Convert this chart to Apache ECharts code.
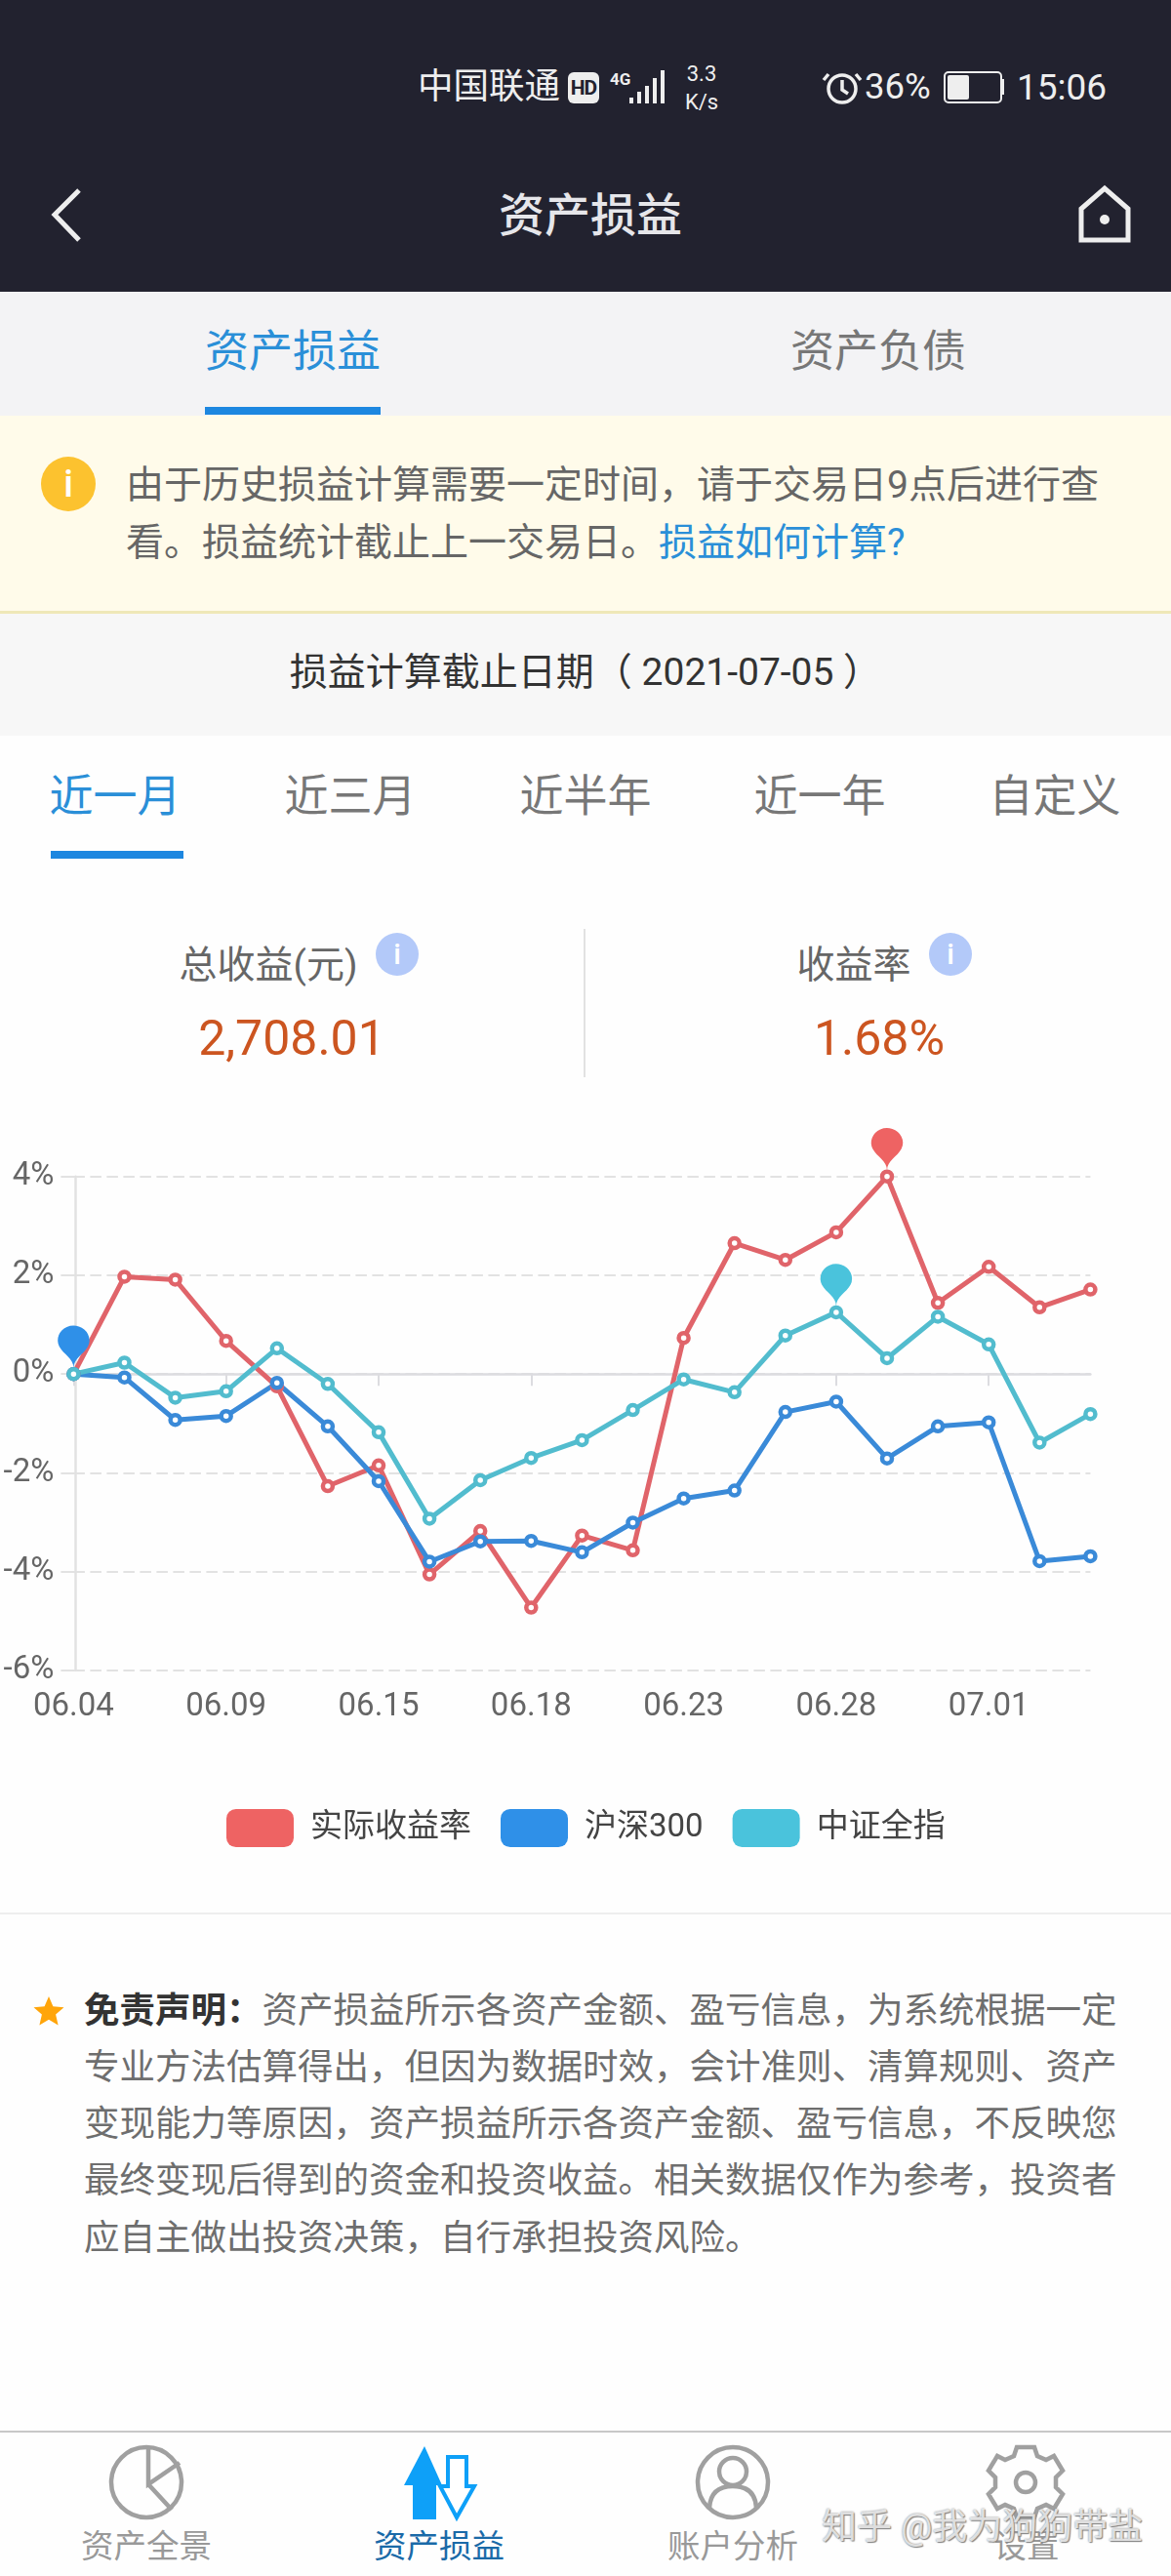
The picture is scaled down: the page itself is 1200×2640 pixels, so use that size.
<!DOCTYPE html>
<html lang="zh-CN"><head><meta charset="utf-8">
<script src="https://cdn.jsdelivr.net/npm/echarts@6/dist/echarts.min.js"></script>
<style>
html,body{margin:0;padding:0;background:#fff;}
#page{position:relative;width:1200px;height:2640px;overflow:hidden;background:#fefefe;font-family:Roboto,"Noto Sans CJK SC",sans-serif;}
.b{position:absolute;}
.t{position:absolute;white-space:nowrap;line-height:1;transform:translateY(-50%);}
.c{transform:translate(-50%,-50%);}
#chart{position:absolute;left:0;top:0;width:1200px;height:2640px;}
svg{position:absolute;overflow:visible;}
</style></head><body><div id="page">
<div class="b" style="left:0;top:0;width:1200px;height:299px;background:#22222f"></div>
<div class="t" style="left:428px;top:89px;font-size:36.5px;color:#eee">中国联通</div>
<div class="b" style="left:582px;top:74px;width:32px;height:32px;background:#eee;border-radius:6px"></div>
<div class="t c" style="left:598px;top:90px;font-size:21px;font-weight:700;color:#22222f;letter-spacing:-1px">HD</div>
<div class="t" style="left:625px;top:81px;font-size:17px;font-weight:700;color:#eee">4G</div>
<svg style="left:0;top:0" width="1" height="1"><g fill="#eee"><rect x="645" y="100" width="4" height="6"/><rect x="653" y="94" width="4" height="12"/><rect x="661" y="88" width="4" height="18"/><rect x="669" y="80" width="4" height="26"/><rect x="677" y="72" width="4" height="34"/></g></svg>
<div class="t c" style="left:719px;top:76px;font-size:22px;color:#eee">3.3</div>
<div class="t c" style="left:719px;top:105px;font-size:22px;color:#eee">K/s</div>
<svg style="left:0;top:0" width="1" height="1"><g fill="none" stroke="#eee" stroke-width="3.5"><circle cx="863" cy="91" r="14"/><path d="M863 82v10l6 4M849 76l-5 6M877 76l5 6"/></g></svg>
<div class="t" style="left:886px;top:89px;font-size:36.5px;color:#eee">36%</div>
<div class="b" style="left:967px;top:73px;width:56px;height:29px;border:2px solid #eee;border-radius:5px"></div>
<div class="b" style="left:971px;top:77px;width:22px;height:25px;background:#eee;border-radius:2px"></div>
<div class="b" style="left:1026px;top:81px;width:3px;height:16px;background:#eee"></div>
<div class="t" style="left:1042px;top:89px;font-size:37px;color:#eee">15:06</div>
<svg style="left:0;top:0" width="1" height="1"><path d="M81 195L56 220L81 246" fill="none" stroke="#eee" stroke-width="5"/>
<path d="M1108 246V214L1132 193L1156 214V246Z" fill="none" stroke="#eee" stroke-width="5"/><circle cx="1132" cy="225" r="5" fill="#eee"/></svg>
<div class="t c" style="left:605px;top:220px;font-size:47px;font-weight:500;color:#e6e6ea">资产损益</div>

<div class="b" style="left:0;top:299px;width:1200px;height:127px;background:#f3f3f5"></div>
<div class="t c" style="left:300px;top:360px;font-size:45px;color:#2a8fd8">资产损益</div>
<div class="t c" style="left:900px;top:360px;font-size:45px;color:#777">资产负债</div>
<div class="b" style="left:210px;top:417px;width:180px;height:8px;background:#1d87e0"></div>

<div class="b" style="left:0;top:426px;width:1200px;height:200px;background:#fffbea;border-bottom:3px solid #efe8b8"></div>
<div class="b" style="left:42px;top:468px;width:56px;height:56px;border-radius:50%;background:#fcc22f"></div>
<div class="t c" style="left:70px;top:496px;font-size:38px;font-weight:500;color:#fff">i</div>
<div class="t" style="left:129px;top:497px;font-size:39px;color:#666">由于历史损益计算需要一定时间&#xFF0C;请于交易日9点后进行查</div>
<div class="t" style="left:129px;top:556px;font-size:39px;color:#666">看。损益统计截止上一交易日。<span style="color:#2a8fd8">损益如何计算?</span></div>

<div class="b" style="left:0;top:629px;width:1200px;height:125px;background:#f7f7f7"></div>
<div class="t c" style="left:600px;top:689px;font-size:39px;color:#333">损益计算截止日期（ 2021-07-05 ）</div>

<div class="t c" style="left:118px;top:816px;font-size:45px;color:#2a8fd8">近一月</div>
<div class="t c" style="left:359px;top:816px;font-size:45px;color:#777">近三月</div>
<div class="t c" style="left:600px;top:816px;font-size:45px;color:#777">近半年</div>
<div class="t c" style="left:840px;top:816px;font-size:45px;color:#777">近一年</div>
<div class="t c" style="left:1081px;top:816px;font-size:45px;color:#777">自定义</div>
<div class="b" style="left:52px;top:872px;width:136px;height:8px;background:#1d87e0"></div>

<div class="t c" style="left:275px;top:989px;font-size:39px;color:#666">总收益(元)</div>
<div class="b" style="left:385px;top:956px;width:44px;height:44px;border-radius:50%;background:#b3c9f9"></div>
<div class="t c" style="left:407px;top:978px;font-size:30px;font-weight:500;color:#fff">i</div>
<div class="b" style="left:598px;top:952px;width:2px;height:152px;background:#e2e2e2"></div>
<div class="t c" style="left:875px;top:989px;font-size:39px;color:#666">收益率</div>
<div class="b" style="left:952px;top:956px;width:44px;height:44px;border-radius:50%;background:#b3c9f9"></div>
<div class="t c" style="left:974px;top:978px;font-size:30px;font-weight:500;color:#fff">i</div>
<div class="t c" style="left:299px;top:1064px;font-size:50px;color:#cc5520">2,708.01</div>
<div class="t c" style="left:901px;top:1064px;font-size:50px;color:#cc5520">1.68%</div>

<div class="b" style="left:0;top:1960px;width:1200px;height:2px;background:#eee"></div>
<svg style="left:0;top:0" width="1" height="1"><path d="M50 2046L54.4 2056.2 65.5 2057.2 57.1 2064.5 59.6 2075.4 50 2069.7 40.4 2075.4 42.9 2064.5 34.5 2057.2 45.6 2056.2Z" fill="#ffa50a"/></svg>
<div class="t" style="left:86px;top:2061px;font-size:36.5px;color:#6e6e6e"><b style="color:#333">免责声明&#xFF1A;</b>资产损益所示各资产金额、盈亏信息&#xFF0C;为系统根据一定</div>
<div class="t" style="left:86px;top:2119px;font-size:36.5px;color:#6e6e6e">专业方法估算得出&#xFF0C;但因为数据时效&#xFF0C;会计准则、清算规则、资产</div>
<div class="t" style="left:86px;top:2177px;font-size:36.5px;color:#6e6e6e">变现能力等原因&#xFF0C;资产损益所示各资产金额、盈亏信息&#xFF0C;不反映您</div>
<div class="t" style="left:86px;top:2235px;font-size:36.5px;color:#6e6e6e">最终变现后得到的资金和投资收益。相关数据仅作为参考&#xFF0C;投资者</div>
<div class="t" style="left:86px;top:2294px;font-size:36.5px;color:#6e6e6e">应自主做出投资决策&#xFF0C;自行承担投资风险。</div>

<div class="b" style="left:0;top:2491px;width:1200px;height:2px;background:#c8c8c8"></div>
<svg style="left:0;top:0" width="1" height="1">
<g fill="none" stroke="#a0a0a0" stroke-width="4.5"><circle cx="150" cy="2544" r="36"/><path d="M152 2509V2546L184 2524M152 2546L176 2572"/></g>
<path d="M435 2507L453 2547H447V2582H423V2547H414Z" fill="#0ea0f8"/>
<path d="M459 2518H478V2548H486L468 2580L451 2548H459Z" fill="#fff" stroke="#0ea0f8" stroke-width="4"/>
<g fill="none" stroke="#a0a0a0" stroke-width="4.5"><circle cx="751" cy="2544" r="36"/><circle cx="751" cy="2533" r="14"/><path d="M727 2570C728 2552 740 2548 751 2548C762 2548 774 2552 775 2570"/></g>
<g fill="none" stroke="#a0a0a0" stroke-width="4.5"><circle cx="1051" cy="2544" r="10"/><path d="M1042 2508h18l3 9 9 4 8-4 9 15-7 7v10l7 7-9 15-8-4-9 4-3 9h-18l-3-9-9-4-8 4-9-15 7-7v-10l-7-7 9-15 8 4 9-4z"/></g>
</svg>
<div class="t c" style="left:150px;top:2610px;font-size:33.5px;color:#999">资产全景</div>
<div class="t c" style="left:450px;top:2610px;font-size:33.5px;color:#1a6aa8">资产损益</div>
<div class="t c" style="left:751px;top:2610px;font-size:33.5px;color:#999">账户分析</div>
<div class="t c" style="left:1052px;top:2610px;font-size:33.5px;color:#999">设置</div>
<div class="t" style="left:842px;top:2590px;font-size:36px;color:rgba(255,255,255,.75);text-shadow:0 0 2px #777,1px 1px 1px #888">知乎 @我为狗狗带盐</div>
<div id="chart"></div>
</div>
<script>
const categories = ['06.04','06.07','06.08','06.09','06.10','06.11','06.15','06.16','06.17','06.18','06.21','06.22','06.23','06.24','06.25','06.28','06.29','06.30','07.01','07.02','07.05'];
const actualReturn = [0,1.97,1.91,0.67,-0.25,-2.27,-1.85,-4.06,-3.18,-4.73,-3.27,-3.57,0.73,2.65,2.31,2.87,4.0,1.44,2.17,1.35,1.71];
const hs300 = [0,-0.07,-0.93,-0.85,-0.18,-1.06,-2.17,-3.8,-3.39,-3.38,-3.61,-3.01,-2.52,-2.36,-0.77,-0.56,-1.71,-1.06,-0.98,-3.79,-3.69];
const csiAll = [0,0.23,-0.48,-0.35,0.52,-0.2,-1.18,-2.93,-2.15,-1.7,-1.34,-0.73,-0.11,-0.37,0.78,1.25,0.32,1.16,0.6,-1.39,-0.81];
const seriesNames = ['实际收益率','沪深300','中证全指'];
const lineColors = ['#E0646A','#3A8AD8','#52BCCE'];
const markColors = ['#EE6363','#2F90E8','#4AC3DC'];
const yTicks = {min:-6,max:4,interval:2};

const chart = echarts.init(document.getElementById('chart'), null, {width:1200,height:2640});
const fontFamily = 'Roboto, "Noto Sans CJK SC", sans-serif';
const mk = (name,data,i)=>({
  name, type:'line', data, symbol:'circle', symbolSize:10, showSymbol:true, animation:false,
  lineStyle:{width:5,color:lineColors[i]},
  itemStyle:{color:'#fff',borderColor:lineColors[i],borderWidth:4.5},
  markPoint:{symbol:'pin',symbolSize:[54,50],symbolOffset:[0,-6],animation:false,silent:true,
    itemStyle:{color:markColors[i]},label:{show:false},data:[{type:'max'}]}
});
chart.setOption({
  animation:false,
  textStyle:{fontFamily},
  grid:{left:75.4,right:82.6,top:1205.7,bottom:928.2,containLabel:false},
  legend:{left:232,top:1854,icon:'roundRect',itemWidth:69,itemHeight:39,itemGap:30,padding:0,
    textStyle:{fontSize:33,color:'#444',padding:[0,0,0,12],fontFamily},
    itemStyle:{borderWidth:0},
    data:seriesNames.map((n,i)=>({name:n,icon:'roundRect',itemStyle:{color:markColors[i],borderWidth:0}}))},
  xAxis:{type:'category',data:categories,boundaryGap:false,
    axisLine:{onZero:true,lineStyle:{color:'#dcdce0',width:2.5}},
    axisTick:{show:true,alignWithLabel:true,interval:2,length:12,lineStyle:{color:'#dcdce0',width:2}},
    axisLabel:{interval:2,margin:21,fontSize:33,color:'#666',fontFamily,hideOverlap:false},
    splitLine:{show:false}},
  yAxis:{type:'value',min:yTicks.min,max:yTicks.max,interval:yTicks.interval,offset:-2,
    axisLine:{show:true,onZero:false,lineStyle:{color:'#e2e2e2',width:2.5}},
    axisTick:{show:true,length:15,lineStyle:{color:'#e2e2e2',width:2}},
    axisLabel:{formatter:'{value}%',margin:22,fontSize:33,color:'#666',fontFamily,padding:[0,0,7,0]},
    splitLine:{show:true,lineStyle:{color:'#e2e2e2',width:2,type:[11.5,5.5]}}},
  series:[mk(seriesNames[0],actualReturn,0),mk(seriesNames[1],hs300,1),mk(seriesNames[2],csiAll,2)]
});
</script></body></html>
